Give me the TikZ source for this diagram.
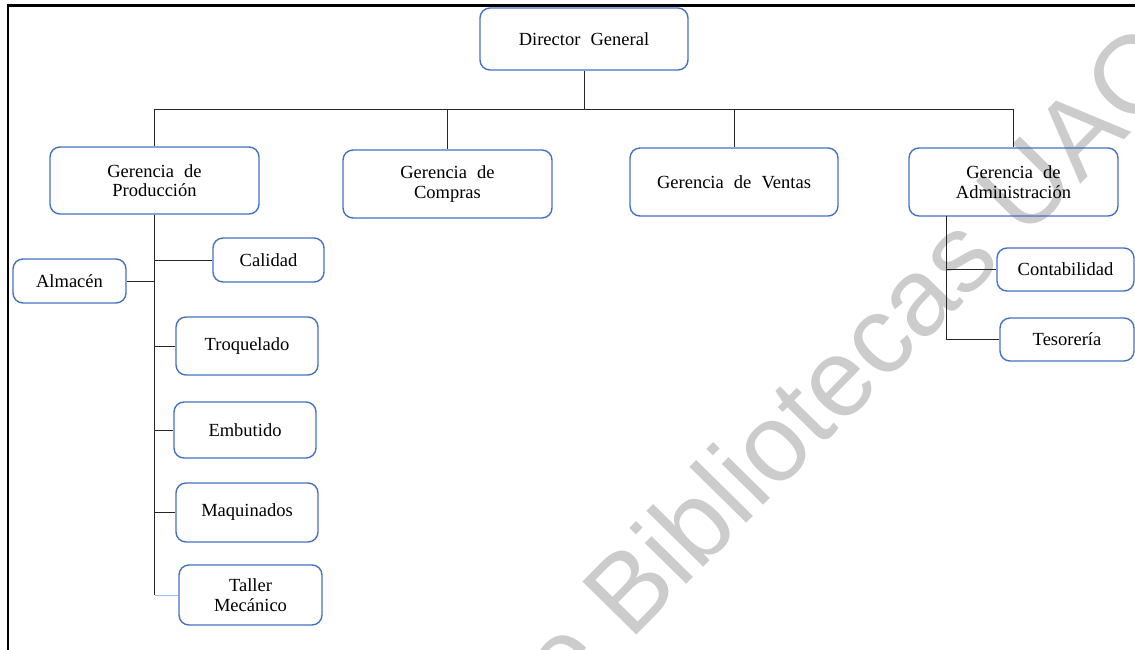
\documentclass[tikz,border=0pt]{standalone}
\usepackage{fontspec}
\setmainfont[WordSpace=2.2]{Liberation Serif}
\newfontfamily\marcafont{Liberation Sans}
\definecolor{azul}{HTML}{4472C4}
\definecolor{azulclaro}{HTML}{9DC3E6}

\def\busy{109}

\begin{document}
\begin{tikzpicture}[x=1pt,y=-1pt,draw=black!85,line width=0.9pt]
    \tikzstyle{unidad}=[rectangle,draw=azul,line width=1.4pt,rounded corners=10pt,align=center,inner sep=0pt,font=\fontsize{18.5}{19.5}\selectfont]
    \tikzstyle{gerencia}=[unidad,minimum width=209pt,minimum height=68pt]
    \tikzstyle{depto}=[unidad,minimum width=142pt,minimum height=58pt]
    \tikzstyle{chico}=[unidad,minimum height=44pt]
    \tikzstyle{marca}=[text=black!20,font=\marcafont\fontsize{110}{110}\selectfont,rotate=45.5,anchor=base west,inner sep=0pt]

    \useasboundingbox (0,0) rectangle (1135,650);
    \clip (0,0) rectangle (1135,650);

    % Watermark behind everything
    \node[marca] (sello) at (630,642) {\llap{de }Bibliotecas UAQ};

    % Frame of the page
    \draw[black,line width=2.5pt] (8,660) -- (8,5.5) -- (1145,5.5);

    % Draw the director
    \node[unidad,minimum width=208pt,minimum height=62pt] (dir) at (584,39) {Director General};

    % Draw the gerencias
    \node[gerencia,minimum height=67pt] (prod) at (154.5,180.5) {Gerencia de\\Producción};
    \node[gerencia] (comp) at (447.5,184) {Gerencia de\\Compras};
    \node[gerencia,minimum width=208pt] (vent) at (734,182) {Gerencia de Ventas};
    \node[gerencia] (adm) at (1013.5,182) {Gerencia de\\Administración};

    % Draw the departments under Producción
    \node[chico,minimum width=111pt] (cal) at (268.5,260) {Calidad};
    \node[chico,minimum width=113pt] (alm) at (69.5,281) {Almacén};
    \node[depto] (troq) at (247,346) {Troquelado};
    \node[depto,minimum height=56pt] (emb) at (245,430) {Embutido};
    \node[depto,minimum height=59pt] (maq) at (247,512.5) {Maquinados};
    \node[depto,minimum width=143pt,minimum height=60pt] (tall) at (250.5,595) {Taller\\Mecánico};

    % Draw the departments under Administración
    \node[unidad,minimum width=137pt,minimum height=43pt] (cont) at (1065.5,269.5) {Contabilidad};
    \node[unidad,minimum width=134pt,minimum height=43pt] (tes) at (1067,339.5) {Tesorería};

    % Connect the director with the gerencias
    \coordinate (bus) at (0,\busy);
    \draw (dir.south) -- (dir.south |- bus);
    \draw (prod.north |- bus) -- (adm.north |- bus);
    \foreach \dest in {prod,comp,vent,adm}
        \draw (\dest.north |- bus) -- (\dest.north);

    % Connect Producción with its departments
    \draw (prod.south) -- (prod.south |- tall.west);
    \foreach \dest in {cal,troq,emb,maq}
        \draw (prod.south |- \dest.west) -- (\dest.west);
    \draw (alm.east) -- (alm.east -| prod.south);
    \draw[azulclaro] (prod.south |- tall.west) -- (tall.west);

    % Connect Administración with its departments
    \coordinate (aspine) at (946,216);
    \draw (aspine) -- (aspine |- tes.west);
    \foreach \dest in {cont,tes}
        \draw (aspine |- \dest.west) -- (\dest.west);
\end{tikzpicture}
\end{document}
